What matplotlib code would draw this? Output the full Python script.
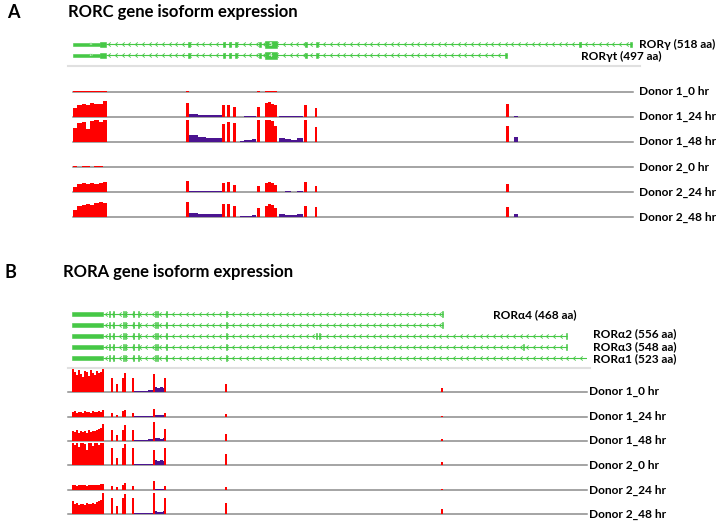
import numpy as np
import matplotlib.pyplot as plt
from matplotlib.path import Path

W, H = 716, 522

green = '#46c846'
red = '#ff0000'
purple = '#4b1490'
base_grey = '#8c8c8c'
sep_grey = '#e0e0e0'

plt.rcParams['font.family'] = ['Lato', 'DejaVu Sans']

donors = ["Donor 1_0 hr", "Donor 1_24 hr", "Donor 1_48 hr",
          "Donor 2_0 hr", "Donor 2_24 hr", "Donor 2_48 hr"]

# ---------------- panel A : RORC (positions in kb along the plotted locus)
rorc_span = (0, 25)
rorc_names = ["RORγ (518 aa)", "RORγt (497 aa)"]
rorc_utr = (0.0, 1.2)
rorc_utr_no = ["11", "10"]
rorc_first_cds = (1.2, 1.47)
rorc_exons = [
    [5.13, 6.70, 6.96, 7.23, 8.30, 10.36, 10.85, 22.6],
    [5.13, 6.70, 6.96, 7.23, 8.30, 10.36, 10.85],
]
rorc_big_exon = (8.57, 9.11)
rorc_big_no = ["5", "4"]
rorc_end = [24.95, 19.38]

# coverage
rorc_block = (0.0, 1.52)
rorc_block_cov = [
    [1, 1, 0.5, 1, 1, 0.5, 1, 1],
    [9, 12, 13, 12, 14, 13, 13, 16],
    [14, 19, 20, 13, 21, 22, 20, 22],
    [1, 0.5, 1, 1, 0.5, 1, 1, 0.5],
    [5, 8, 9, 8, 9, 8, 9, 10],
    [7, 11, 12, 13, 12, 14, 15, 14],
]
rorc_peak_pos = [5.13, 6.70, 6.96, 7.23, 8.30, 10.36, 10.85, 19.38]
rorc_peak_cov = [
    [0.6, 0, 0, 0, 0.6, 0, 0, 0],
    [14, 12, 12, 10, 10, 12, 9, 13],
    [22, 18, 20, 19, 22, 22, 15, 16],
    [0.6, 0, 0, 0, 0.6, 0, 0, 0],
    [11, 9, 10, 7, 6, 10, 6, 8],
    [15, 13, 13, 11, 9, 11, 10, 10],
]
rorc_mid_cov = [
    [0.5, 0.5, 0.5, 0.5],
    [14, 15, 13, 12],
    [22, 22, 21, 16],
    [0.5, 0.5, 0.5, 0.5],
    [9, 10, 9, 7],
    [11, 13, 12, 9],
]
rorc_purple_regions = [(5.2, 6.65), (7.45, 8.17), (9.2, 10.27)]
rorc_purple_cov = [
    [[0, 0, 0, 0], [0, 0, 0, 0], [0, 0, 0, 0]],
    [[2.5, 1.5, 1.5, 2], [0, 1, 1, 0.5], [1, 0.5, 1, 1]],
    [[7, 5, 4, 4], [1, 2, 2, 2.5], [4, 3, 2, 3.5]],
    [[0, 0, 0, 0], [0, 0, 0, 0], [0, 0, 0, 0]],
    [[1.5, 1, 1, 1.5], [0.5, 0.5, 0.5, 0], [0.5, 1, 0.5, 1]],
    [[4, 3, 3, 3], [1, 1.5, 1.5, 2], [3, 2, 2, 3]],
]
rorc_purple_peak_pos = 19.78
rorc_purple_peak = [0, 1, 5, 0, 0.5, 3]

# ---------------- panel B : RORA (positions in kb along the plotted locus)
rora_span = (0, 730)
rora_names = ["RORα4 (468 aa)", "", "RORα2 (556 aa)", "RORα3 (548 aa)", "RORα1 (523 aa)"]
rora_utr = (5.6, 49.2)
rora_common_exons = [57.7, 63.3, 77.4, 80.2, 91.4, 98.5, 122.4, 125.2, 137.8, 222.2]
rora_extra_exons = [[], [], [348.8, 353.0], [640.0], []]
rora_end = [527.5, 527.5, 701.9, 701.9, 730.0]
rora_has_end_exon = [True, True, True, True, False]

rora_block = (5.6, 50.6)
rora_block_cov = [
    [23, 20, 17, 22, 18, 15, 21, 20, 16, 22, 19, 17, 21, 19, 20, 23],
    [5, 6, 4, 5, 5, 4, 6, 5, 5, 4, 6, 5, 5, 6, 5, 7],
    [10, 9, 11, 8, 10, 9, 10, 8, 11, 9, 10, 10, 11, 12, 13, 17],
    [22, 20, 22, 18, 22, 22, 21, 15, 22, 22, 19, 22, 22, 20, 22, 22],
    [5, 5, 4, 5, 5, 5, 5, 4, 5, 5, 5, 5, 5, 5, 6, 6],
    [13, 10, 11, 9, 10, 10, 9, 11, 10, 10, 11, 10, 12, 13, 14, 21],
]
rora_peak_pos = [61.9, 68.9, 77.4, 80.2, 91.4, 121.0, 136.4, 222.2, 526.1]
rora_peak_cov = [
    [14, 8, 14, 19, 14, 18, 14, 8, 4],
    [4, 2, 6, 7, 4, 8, 4, 3, 1],
    [11, 6, 11, 16, 11, 19, 12, 7, 2],
    [17, 7, 17, 21, 17, 15, 17, 11, 3],
    [4, 3, 5, 7, 4, 9, 4, 3, 1],
    [16, 8, 16, 20, 16, 21, 16, 11, 5],
]
rora_purple_regions = [(92.8, 119.6), (121.0, 137.8)]
rora_purple_cov = [
    [[1, 1, 1, 1.5], [5, 4, 5, 4]],
    [[0.5, 0.5, 0.5, 0.5], [2, 1.5, 1.5, 2]],
    [[1, 1, 1, 1.5], [3, 2.5, 2, 3]],
    [[1, 1, 1, 1.5], [5, 4, 5, 4]],
    [[0.5, 0.5, 0.5, 0.5], [1.5, 1, 1, 1.5]],
    [[1, 1, 1, 1.5], [3, 2.5, 2, 3]],
]

chevron = Path([(0.6, 1), (-0.6, 0), (0.6, -1)], [Path.MOVETO, Path.LINETO, Path.LINETO])

fig = plt.figure(figsize=(W / 100, H / 100), dpi=100)


def fx(x):
    return x / W


def fy(y):
    return 1 - y / H


def add_ax(x0, x1, y0, y1):
    ax = fig.add_axes([fx(x0), fy(y1), (x1 - x0) / W, (y1 - y0) / H])
    ax.axis('off')
    return ax


def draw_intron(ax, start, end, y, step):
    ax.plot([start, end], [y, y], color=green, lw=0.8, solid_capstyle='butt')
    xs = np.arange(start + step / 2, end - step / 3, step)
    ax.plot(xs, np.full(len(xs), y), ls='none', marker=chevron, ms=3,
            mfc='none', mec=green, mew=0.6)


def draw_exon(ax, start, width, y, h):
    ax.broken_barh([(start, width)], (y - h / 2, h), facecolors=green, edgecolors=green, lw=0.4)


def coverage_ax(x0, x1, yb, span):
    ax = add_ax(x0, x1, yb - 24, yb)
    ax.set_xlim(span)
    ax.set_ylim(0, 24)
    ax.axhline(0, color=base_grey, lw=1.1, clip_on=False, zorder=0)
    return ax


lab = dict(fontsize=8.6, fontweight='bold', va='center')

# ---------------- panel A
fig.text(fx(7), fy(13), "A", fontsize=13, fontweight='bold', va='center', ha='left')
fig.text(fx(68), fy(12), "RORC gene isoform expression", fontsize=12,
         fontweight='bold', va='center', ha='left')

axg = add_ax(73, 633, 38.8, 60.8)
axg.set_xlim(rorc_span)
axg.set_ylim(1.5, -0.5)
for i, name in enumerate(rorc_names):
    draw_intron(axg, rorc_first_cds[1], rorc_end[i], i, 0.3)
    draw_exon(axg, rorc_utr[0], rorc_utr[1] - rorc_utr[0], i, 0.27)
    axg.text((rorc_utr[0] + rorc_utr[1]) / 2 + 0.2, i, rorc_utr_no[i], color='#d8f5d8',
             fontsize=3, ha='center', va='center')
    draw_exon(axg, rorc_first_cds[0], rorc_first_cds[1] - rorc_first_cds[0], i, 0.5)
    for e in rorc_exons[i]:
        draw_exon(axg, e, 0.09, i, 0.5)
    draw_exon(axg, rorc_big_exon[0], rorc_big_exon[1] - rorc_big_exon[0], i, 0.6)
    axg.text(sum(rorc_big_exon) / 2, i, rorc_big_no[i], color='white', fontsize=4.5,
             fontweight='bold', ha='center', va='center')
    draw_exon(axg, rorc_end[i] - 0.09, 0.09, i, 0.5)
fig.text(fx(639), fy(44.3), rorc_names[0], **lab)
fig.text(fx(581), fy(56), rorc_names[1], **lab)
fig.add_artist(plt.Line2D([fx(68), fx(640)], [fy(66), fy(66)], color=sep_grey, lw=1.5))

rorc_base = [91.7, 116.7, 141.7, 167.3, 192.3, 217.3]
for d, yb in enumerate(rorc_base):
    ax = coverage_ax(73, 633, yb, rorc_span)
    edges = np.linspace(rorc_block[0], rorc_block[1], len(rorc_block_cov[d]) + 1)
    ax.stairs(rorc_block_cov[d], edges, fill=True, color=red, lw=0)
    edges = np.linspace(rorc_big_exon[0], rorc_big_exon[1], len(rorc_mid_cov[d]) + 1)
    ax.stairs(rorc_mid_cov[d], edges, fill=True, color=red, lw=0)
    ax.bar(rorc_peak_pos, rorc_peak_cov[d], width=0.13, color=red, lw=0)
    for (s, e), vals in zip(rorc_purple_regions, rorc_purple_cov[d]):
        edges = np.linspace(s, e, len(vals) + 1)
        ax.stairs(vals, edges, fill=True, color=purple, lw=0)
    ax.bar([rorc_purple_peak_pos], [rorc_purple_peak[d]], width=0.15, color=purple, lw=0)
    fig.text(fx(639), fy(yb), donors[d], **lab)

# ---------------- panel B
fig.text(fx(5), fy(272), "B", fontsize=13, fontweight='bold', va='center', ha='left')
fig.text(fx(63), fy(272), "RORA gene isoform expression", fontsize=12,
         fontweight='bold', va='center', ha='left')

axg = add_ax(68, 587, 308.5, 363.5)
axg.set_xlim(rora_span)
axg.set_ylim(4.5, -0.5)
for i in range(len(rora_names)):
    draw_intron(axg, rora_utr[1], rora_end[i], i, 9.4)
    draw_exon(axg, rora_utr[0], rora_utr[1] - rora_utr[0], i, 0.32)
    for e in rora_common_exons + rora_extra_exons[i]:
        draw_exon(axg, e, 1.4, i, 0.55)
    if rora_has_end_exon[i]:
        draw_exon(axg, rora_end[i] - 1.4, 1.4, i, 0.55)
fig.text(fx(493), fy(315), rora_names[0], **lab)
for name, y in zip(rora_names[2:], [334, 346.5, 359]):
    fig.text(fx(593), fy(y), name, **lab)
fig.add_artist(plt.Line2D([fx(68), fx(590)], [fy(368), fy(368)], color=sep_grey, lw=1.5))

rora_base = [391.7, 416.7, 440.7, 465.0, 490.0, 514.3]
for d, yb in enumerate(rora_base):
    ax = coverage_ax(68, 587, yb, rora_span)
    vals = rora_block_cov[d]
    centers = np.linspace(rora_block[0], rora_block[1], len(vals) + 1)
    width = centers[1] - centers[0]
    ax.bar(centers[:-1] + width / 2, vals, width=width * 0.8, color=red, lw=0)
    for (s, e), pv in zip(rora_purple_regions, rora_purple_cov[d]):
        edges = np.linspace(s, e, len(pv) + 1)
        ax.stairs(pv, edges, fill=True, color=purple, lw=0)
    ax.bar(rora_peak_pos, rora_peak_cov[d], width=1.6, color=red, lw=0)
    fig.text(fx(589), fy(yb), donors[d], **lab)

fig.savefig("out.png", dpi=100)
